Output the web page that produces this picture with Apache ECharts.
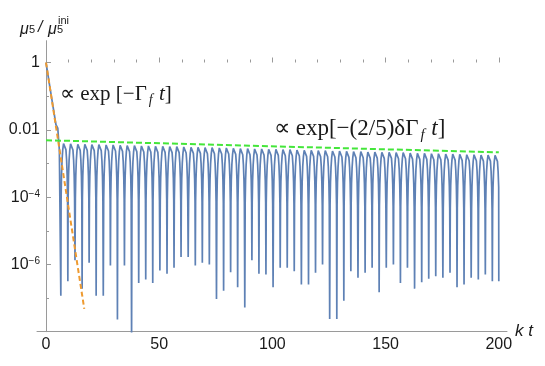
<!DOCTYPE html>
<html>
<head>
<meta charset="utf-8">
<script src="https://cdn.jsdelivr.net/npm/echarts@6/dist/echarts.min.js"></script>
<style>
  html, body { margin: 0; padding: 0; background: #fff; }
  #chart { width: 545px; height: 366px; }
</style>
</head>
<body>
<div id="chart"></div>
<script>
// y values are log10 exponents of mu5 / mu5^ini

// initial exponential decay, before the first trough
var decayT   = [0, 2.2, 4.4, 5.2, 5.9];
var decayExp = [0, -0.93, -1.85, -1.95, -2.6];

// tops of the oscillation arches
var peakT = [8.1, 11.2, 14.4, 17.5, 20.6, 23.7, 26.9, 30.0, 33.1, 36.2,
  39.4, 42.5, 45.6, 48.7, 51.9, 55.0, 58.1, 61.2, 64.4, 67.5,
  70.6, 73.7, 76.9, 80.0, 83.1, 86.2, 89.4, 92.5, 95.6, 98.7,
  101.9, 105.0, 108.1, 111.2, 114.4, 117.5, 120.6, 123.7, 126.9, 130.0,
  133.1, 136.2, 139.4, 142.5, 145.6, 148.7, 151.9, 155.0, 158.1, 161.2,
  164.4, 167.5, 170.6, 173.7, 176.9, 180.0, 183.1, 186.2, 189.4, 192.5,
  195.6, 198.7];
var peakExp = [-2.36, -2.37, -2.38, -2.38, -2.39, -2.39, -2.40, -2.40, -2.41, -2.42,
  -2.42, -2.43, -2.43, -2.44, -2.44, -2.45, -2.45, -2.46, -2.47, -2.47,
  -2.48, -2.48, -2.49, -2.49, -2.50, -2.51, -2.51, -2.52, -2.52, -2.53,
  -2.53, -2.54, -2.54, -2.55, -2.56, -2.56, -2.57, -2.57, -2.58, -2.58,
  -2.59, -2.60, -2.60, -2.61, -2.61, -2.62, -2.62, -2.63, -2.63, -2.64,
  -2.65, -2.65, -2.66, -2.66, -2.67, -2.67, -2.68, -2.69, -2.69, -2.70,
  -2.70, -2.71];

// bottoms of the needles, one before each arch
var troughT = [6.55, 9.65, 12.8, 15.95, 19.05, 22.15, 25.3, 28.45, 31.55, 34.65,
  37.8, 40.95, 44.05, 47.15, 50.3, 53.45, 56.55, 59.65, 62.8, 65.95,
  69.05, 72.15, 75.3, 78.45, 81.55, 84.65, 87.8, 90.95, 94.05, 97.15,
  100.3, 103.45, 106.55, 109.65, 112.8, 115.95, 119.05, 122.15, 125.3, 128.45,
  131.55, 134.65, 137.8, 140.95, 144.05, 147.15, 150.3, 153.45, 156.55, 159.65,
  162.8, 165.95, 169.05, 172.15, 175.3, 178.45, 181.55, 184.65, 187.8, 190.95,
  194.05, 197.15];
var troughExp = [-6.93, -6.5, -5.88, -6.72, -5.95, -6.93, -6.93, -6.03, -7.64, -6.03,
  -8.3, -6.55, -6.45, -6.55, -6.18, -6.28, -6.1, -5.78, -5.78, -6.03,
  -5.95, -6.0, -7.03, -6.78, -6.23, -6.68, -7.28, -5.88, -6.28, -6.3,
  -6.68, -6.1, -6.1, -6.2, -6.6, -6.6, -6.25, -6.0, -7.62, -7.62,
  -7.08, -6.2, -6.4, -6.25, -6.1, -6.83, -6.1, -6.0, -6.55, -6.1,
  -6.72, -6.53, -6.43, -6.35, -6.4, -6.25, -6.68, -6.6, -6.4, -6.45,
  -6.3, -6.5];
var endT = 200, endExp = -6.5;

var archDt   = [0.35, 0.7, 1.0, 1.25, 1.42];
var archDrop = [0.05, 0.23, 0.53, 1.0, 1.65];

// dashed guide lines
var fastT = [0, 16.9],  fastExp = [0, -7.32];
var slowT = [0, 200],   slowExp = [-2.31, -2.67];

var blue = [];
decayT.forEach(function (t, i) { blue.push([t, decayExp[i]]); });
peakT.forEach(function (tp, k) {
  blue.push([troughT[k], troughExp[k]]);
  for (var j = archDt.length - 1; j >= 0; j--) blue.push([tp - archDt[j], peakExp[k] - archDrop[j]]);
  blue.push([tp, peakExp[k]]);
  for (var j = 0; j < archDt.length; j++) {
    if (tp + archDt[j] < endT) blue.push([tp + archDt[j], peakExp[k] - archDrop[j]]);
  }
});
blue.push([endT, endExp]);

var fast = fastT.map(function (t, i) { return [t, fastExp[i]]; });
var slow = slowT.map(function (t, i) { return [t, slowExp[i]]; });

var axisGray = '#9a9a9a';
var labelFont = '"Liberation Sans", Arial, sans-serif';
var mathFont = '"Liberation Serif", serif';

function formula(text, x, y, size) {
  return { type: 'text', x: x, y: y, style: {
    text: text, font: size + 'px ' + mathFont, fill: '#1a1a1a', verticalAlign: 'middle',
    rich: {
      f: { fontSize: Math.round(size * 0.65), fontStyle: 'italic', fontFamily: mathFont, padding: [12, 1, 0, 2] },
      i: { fontSize: size, fontStyle: 'italic', fontFamily: mathFont }
    }
  } };
}

var option = {
  animation: false,
  backgroundColor: '#fff',
  grid: [
    { left: 46, right: 46.2, top: 62.5, bottom: 34.3, containLabel: false },
    { left: 37, right: 38, top: 40.7, bottom: 34.3, containLabel: false }
  ],
  xAxis: [{
    type: 'value', gridIndex: 0, min: 0, max: 200, interval: 50,
    axisLine: { show: false },
    splitLine: { show: false },
    axisTick: { show: true, inside: true, length: 5, lineStyle: { color: axisGray } },
    minorTick: { show: true, splitNumber: 5, length: 3, lineStyle: { color: axisGray } },
    axisLabel: { margin: 5, color: '#1a1a1a', fontSize: 16, fontFamily: labelFont }
  }, {
    type: 'value', gridIndex: 1, min: -4.1, max: 203.6,
    axisLine: { show: true, onZero: false, lineStyle: { color: axisGray, width: 1 } },
    axisTick: { show: false }, axisLabel: { show: false }, splitLine: { show: false },
    name: 'k t', nameLocation: 'end', nameGap: 8,
    nameTextStyle: { fontSize: 17, fontStyle: 'italic', color: '#1a1a1a', fontFamily: labelFont }
  }],
  yAxis: [{
    type: 'value', gridIndex: 0, min: -8, max: 0, interval: 2,
    axisLine: { show: false },
    splitLine: { show: false },
    axisTick: { show: true, inside: true, length: 5, lineStyle: { color: axisGray } },
    minorTick: { show: true, splitNumber: 2, length: 3, lineStyle: { color: axisGray } },
    axisLabel: {
      margin: 6, color: '#1a1a1a', fontSize: 16, fontFamily: labelFont,
      formatter: function (v) {
        if (v === 0) return '1';
        if (v === -2) return '0.01';
        if (v === -4 || v === -6) return '10{sup|\u2212' + (-v) + '}';
        return '';
      },
      rich: { sup: { fontSize: 10, verticalAlign: 'top', fontFamily: labelFont, color: '#1a1a1a' } }
    }
  }, {
    type: 'value', gridIndex: 1, min: 0, max: 1,
    axisLine: { show: true, onZero: true, lineStyle: { color: axisGray, width: 1 } },
    axisTick: { show: false }, axisLabel: { show: false }, splitLine: { show: false }
  }],
  series: [{
    type: 'line', xAxisIndex: 0, yAxisIndex: 0, data: blue,
    showSymbol: false, symbol: 'none', sampling: null,
    lineStyle: { color: '#5E81B5', width: 1.7 }
  }, {
    type: 'line', xAxisIndex: 0, yAxisIndex: 0, data: fast,
    showSymbol: false, symbol: 'none',
    lineStyle: { color: '#EE9A30', width: 2, type: [5, 3] }
  }, {
    type: 'line', xAxisIndex: 0, yAxisIndex: 0, data: slow,
    showSymbol: false, symbol: 'none',
    lineStyle: { color: '#44E63A', width: 2, type: [6, 3] }
  }],
  graphic: [
    { type: 'text', x: 20, y: 30, style: { text: '\u03bc', font: 'italic 16px ' + labelFont, fill: '#1a1a1a', verticalAlign: 'middle' } },
    { type: 'text', x: 29, y: 30, style: { text: '5', font: '11px ' + labelFont, fill: '#1a1a1a', verticalAlign: 'middle' } },
    { type: 'text', x: 38, y: 28, style: { text: '/', font: 'italic 16px ' + labelFont, fill: '#1a1a1a', verticalAlign: 'middle' } },
    { type: 'text', x: 48, y: 30, style: { text: '\u03bc', font: 'italic 16px ' + labelFont, fill: '#1a1a1a', verticalAlign: 'middle' } },
    { type: 'text', x: 57, y: 30, style: { text: '5', font: '11px ' + labelFont, fill: '#1a1a1a', verticalAlign: 'middle' } },
    { type: 'text', x: 58, y: 21, style: { text: 'ini', font: '11px ' + labelFont, fill: '#1a1a1a', verticalAlign: 'middle' } },
    formula('\u221d exp [\u2212\u0393{f|f} {i|t}]', 60, 94, 21),
    formula('\u221d exp[\u2212(2/5)\u03b4\u0393{f|f} {i|t}]', 274, 129, 23)
  ]
};

var chart = echarts.init(document.getElementById('chart'));
chart.setOption(option);
</script>
</body>
</html>
